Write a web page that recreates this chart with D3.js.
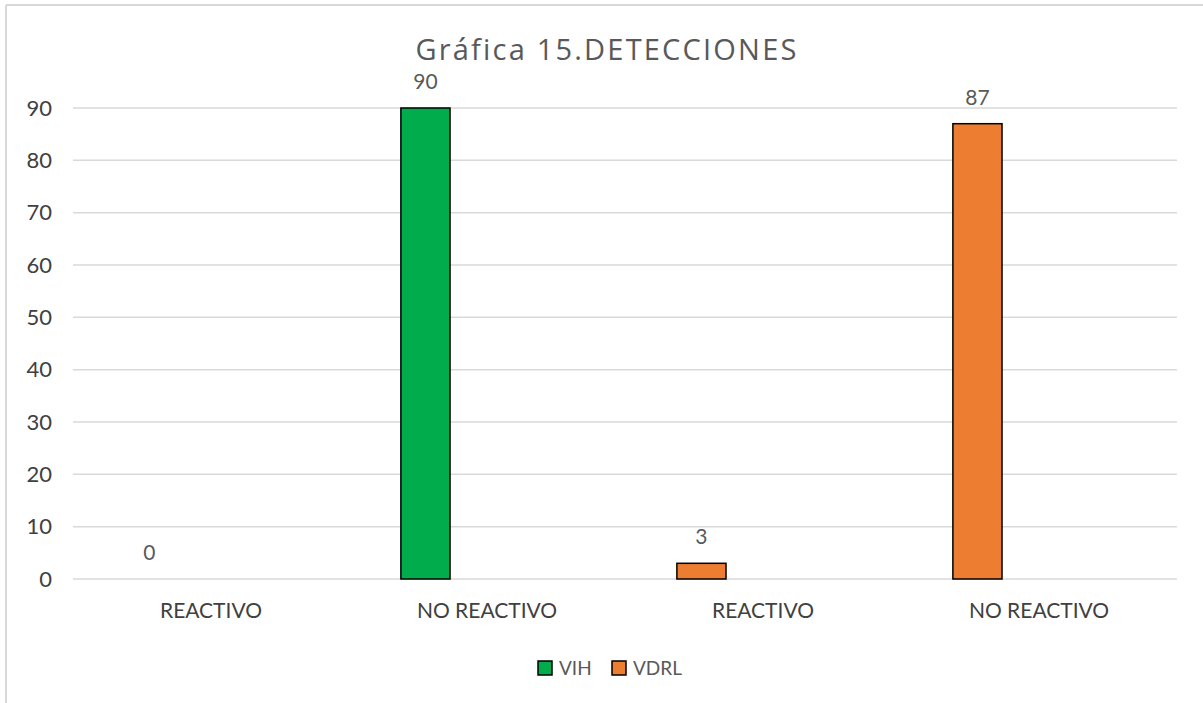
<!DOCTYPE html>
<html>
<head>
<meta charset="utf-8">
<script src="https://cdn.jsdelivr.net/npm/d3@7"></script>
<style>
  html, body { margin: 0; padding: 0; background: #fff; }
  svg { display: block; }
  text { font-family: Lato, "Open Sans", sans-serif; }
</style>
</head>
<body>
<svg id="chart" width="1203" height="703"></svg>
<script>
// Categories along the x axis
const categories = ["REACTIVO", "NO REACTIVO", "REACTIVO", "NO REACTIVO"];
// Series each bar belongs to
const seriesOfBar = ["VIH", "VIH", "VDRL", "VDRL"];
// Counts per bar
const values = [0, 90, 3, 87];
// Legend entries
const seriesNames = ["VIH", "VDRL"];
const seriesColors = ["#00ac4c", "#ed7d31"];
// Y axis ticks
const yTicks = [0, 10, 20, 30, 40, 50, 60, 70, 80, 90];
const title = "Gráfica 15.DETECCIONES";

const svg = d3.select("#chart");
const W = 1203, H = 703;
const plot = { left: 73, right: 1177, top: 108, bottom: 579 };

// frame of the chart area
svg.append("line").attr("x1", 6).attr("x2", W).attr("y1", 5).attr("y2", 5)
  .attr("stroke", "#d9d9d9").attr("stroke-width", 2);
svg.append("line").attr("x1", 6).attr("x2", 6).attr("y1", 5).attr("y2", H)
  .attr("stroke", "#d9d9d9").attr("stroke-width", 2);

const idx = d3.range(categories.length);
const x = d3.scaleBand().domain(idx).range([plot.left, plot.right]).padding(0);
const y = d3.scaleLinear().domain([0, 90]).range([plot.bottom, plot.top]);
const color = d3.scaleOrdinal().domain(seriesNames).range(seriesColors);

// gridlines
svg.append("g")
  .selectAll("line").data(yTicks).join("line")
  .attr("x1", plot.left).attr("x2", plot.right)
  .attr("y1", d => y(d)).attr("y2", d => y(d))
  .attr("stroke", "#d9d9d9").attr("stroke-width", 1.5);

// y axis labels
const yAxis = d3.axisLeft(y).tickValues(yTicks).tickSize(0).tickPadding(0);
const gy = svg.append("g").attr("transform", "translate(52,0)").call(yAxis);
gy.select(".domain").remove();
gy.selectAll("text")
  .attr("font-size", 22).attr("fill", "#404040")
  .style("font-family", "Lato, sans-serif");

// x axis labels
const xAxis = d3.axisBottom(x).tickFormat(i => categories[i]).tickSize(0).tickPadding(0);
const gx = svg.append("g").attr("transform", `translate(0,${plot.bottom + 24})`).call(xAxis);
gx.select(".domain").remove();
gx.selectAll("text")
  .attr("font-size", 21).attr("fill", "#404040")
  .style("font-family", "Lato, sans-serif");

// bars sit in the first slot of each category
const barOffset = 0.188, barWidth = 0.178;
svg.append("g")
  .selectAll("rect").data(idx).join("rect")
  .attr("x", i => x(i) + x.bandwidth() * barOffset)
  .attr("width", x.bandwidth() * barWidth)
  .attr("y", i => y(values[i]))
  .attr("height", i => y(0) - y(values[i]))
  .attr("fill", i => color(seriesOfBar[i]))
  .attr("stroke", i => values[i] > 0 ? "#000" : "none")
  .attr("stroke-width", 1.5);

// value labels
svg.append("g")
  .selectAll("text").data(idx).join("text")
  .attr("x", i => x(i) + x.bandwidth() * (barOffset + barWidth / 2))
  .attr("y", i => y(values[i]) - 19)
  .attr("text-anchor", "middle")
  .attr("font-size", 21).attr("fill", "#595959")
  .text(i => values[i]);

// title
svg.append("text")
  .attr("x", 607).attr("y", 60)
  .attr("text-anchor", "middle")
  .attr("font-size", 29).attr("fill", "#595959")
  .attr("letter-spacing", 2.2)
  .style("font-family", "'Open Sans', sans-serif")
  .text(title);

// legend
const legendX = [538, 612];
const lg = svg.append("g").selectAll("g").data(seriesNames).join("g")
  .attr("transform", (d, i) => `translate(${legendX[i]},661)`);
lg.append("rect").attr("width", 14).attr("height", 14)
  .attr("fill", d => color(d)).attr("stroke", "#000").attr("stroke-width", 1.5);
lg.append("text").attr("x", 21).attr("y", 13.5)
  .attr("font-size", 19).attr("fill", "#595959")
  .text(d => d);
</script>
</body>
</html>
